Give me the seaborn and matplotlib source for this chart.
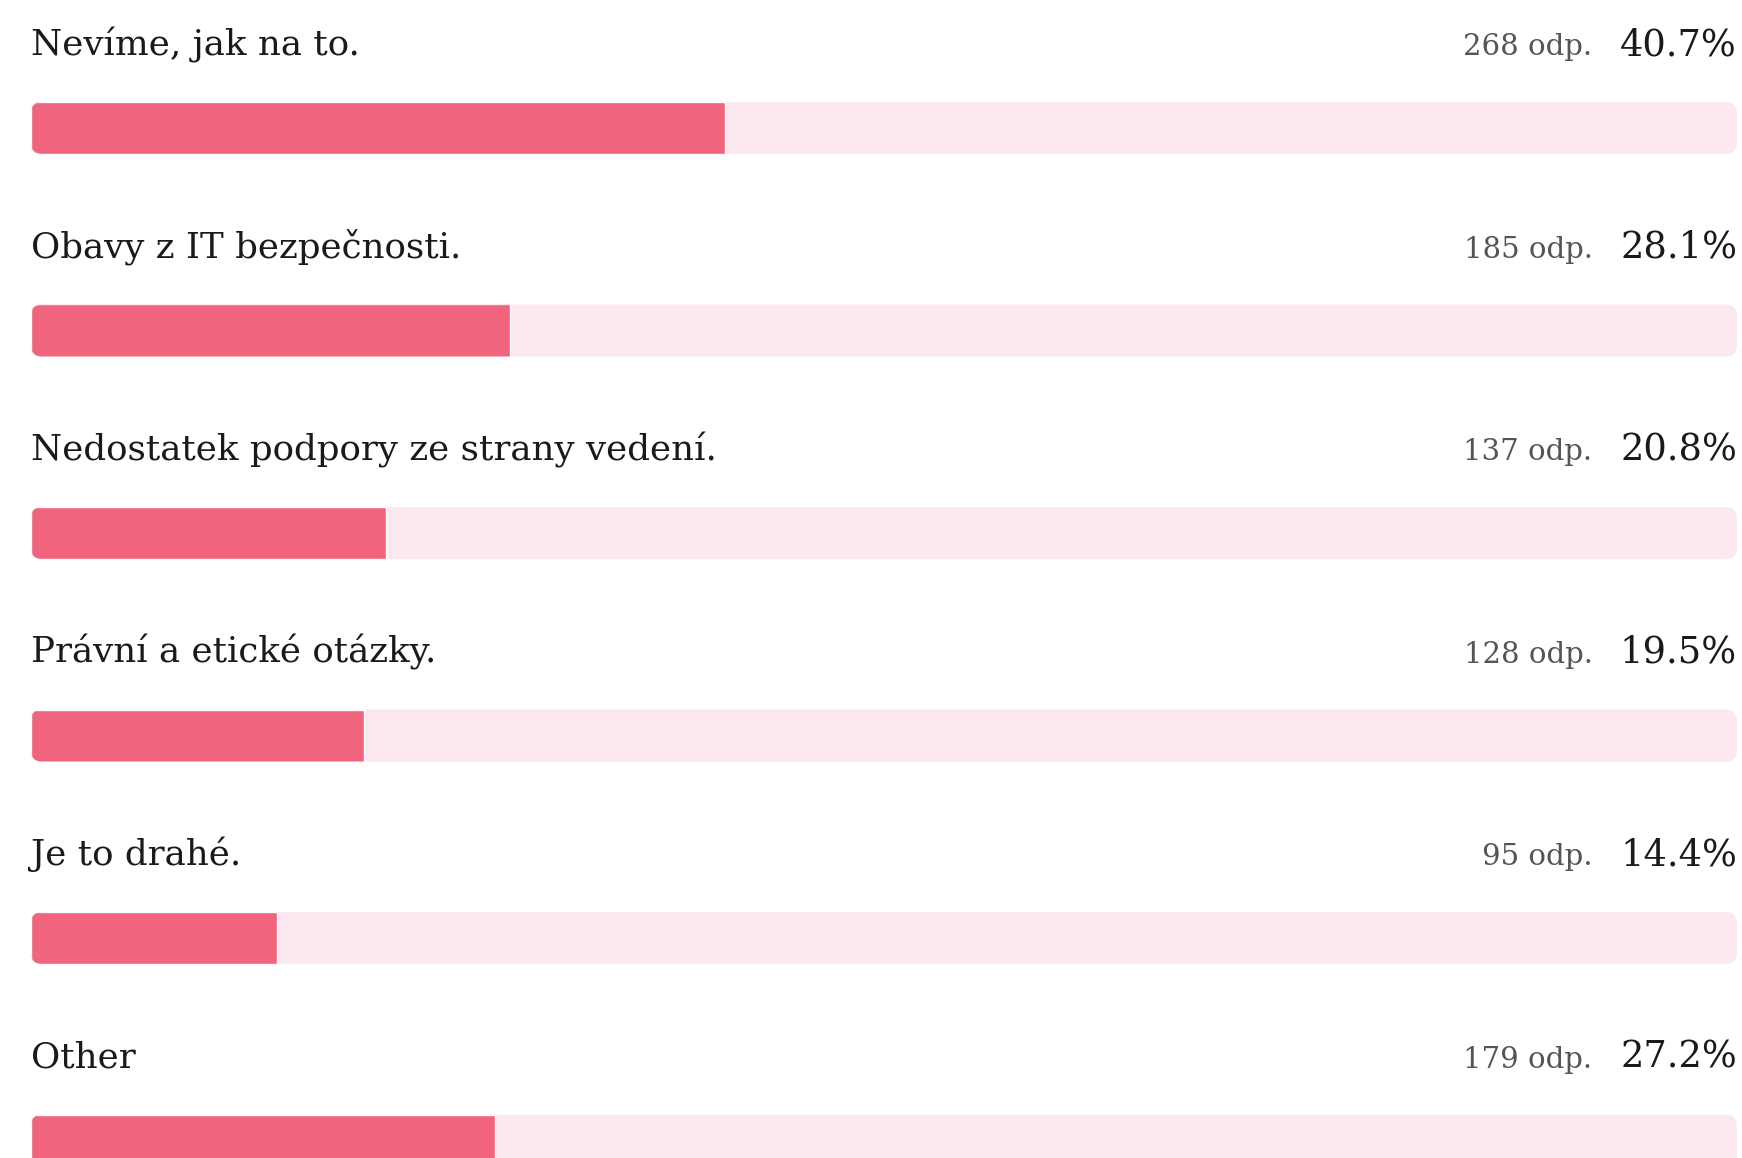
import matplotlib
matplotlib.use("Agg")
import matplotlib.pyplot as plt
import pandas as pd
import seaborn as sns
from matplotlib.patches import FancyBboxPatch

# survey answers, number of responses and share of respondents
answers = [
    "Nevíme, jak na to.",
    "Obavy z IT bezpečnosti.",
    "Nedostatek podpory ze strany vedení.",
    "Právní a etické otázky.",
    "Je to drahé.",
    "Other",
]
responses = [268, 185, 137, 128, 95, 179]
shares = [40.7, 28.1, 20.8, 19.5, 14.4, 27.2]

FILL = "#f0647e"
TRACK = "#fce9ef"

sns.set_theme(style="white")
plt.rcParams["font.family"] = ["DejaVu Serif"]

df = pd.DataFrame({"answer": answers, "share": shares, "full": 100.0})

fig = plt.figure(figsize=(17.42, 11.58), dpi=100)
ax = fig.add_axes([0, 0, 1, 1])

bar_h = 0.257
sns.barplot(data=df, x="full", y="answer", color=TRACK, width=bar_h,
            saturation=1, errorbar=None, orient="h", ax=ax)
n_track = len(ax.patches)
sns.barplot(data=df, x="share", y="answer", color=FILL, width=bar_h,
            saturation=1, errorbar=None, orient="h", ax=ax)

ax.set_xlim(-1.817, 100.293)
ax.set_ylim(5.086, -0.632)
ax.axis("off")

# round the track ends and clip the filled part to them
px_x = 1742 / (100.293 + 1.817)
px_y = 1158 / (5.086 + 0.632)
radius = 11
r = radius / px_x
aspect = (radius / px_y) / r
tracks = list(ax.patches[:n_track])
fills = list(ax.patches[n_track:])
for tr, fl in zip(tracks, fills):
    box = FancyBboxPatch((tr.get_x(), tr.get_y()), tr.get_width(), tr.get_height(),
                         boxstyle=f"round,pad=0,rounding_size={r}",
                         mutation_aspect=aspect, fc=TRACK, ec="none", zorder=1)
    tr.remove()
    ax.add_patch(box)
    fl.set_zorder(2)
    fl.set_clip_path(box)

for i, (a, n, s) in enumerate(zip(answers, responses, shares)):
    yb = i - 0.36
    ax.text(0, yb, a, ha="left", va="baseline", fontsize=25.7, color="#1a1a1a")
    ax.text(100, yb, f"{s:.1f}%", ha="right", va="baseline", fontsize=26.5, color="#1a1a1a")
    ax.annotate(f"{n} odp.", xy=(100, yb), xytext=(-104, 0), textcoords="offset points",
                ha="right", va="baseline", fontsize=21, color="#555555")

fig.savefig("out.png", dpi=100)
